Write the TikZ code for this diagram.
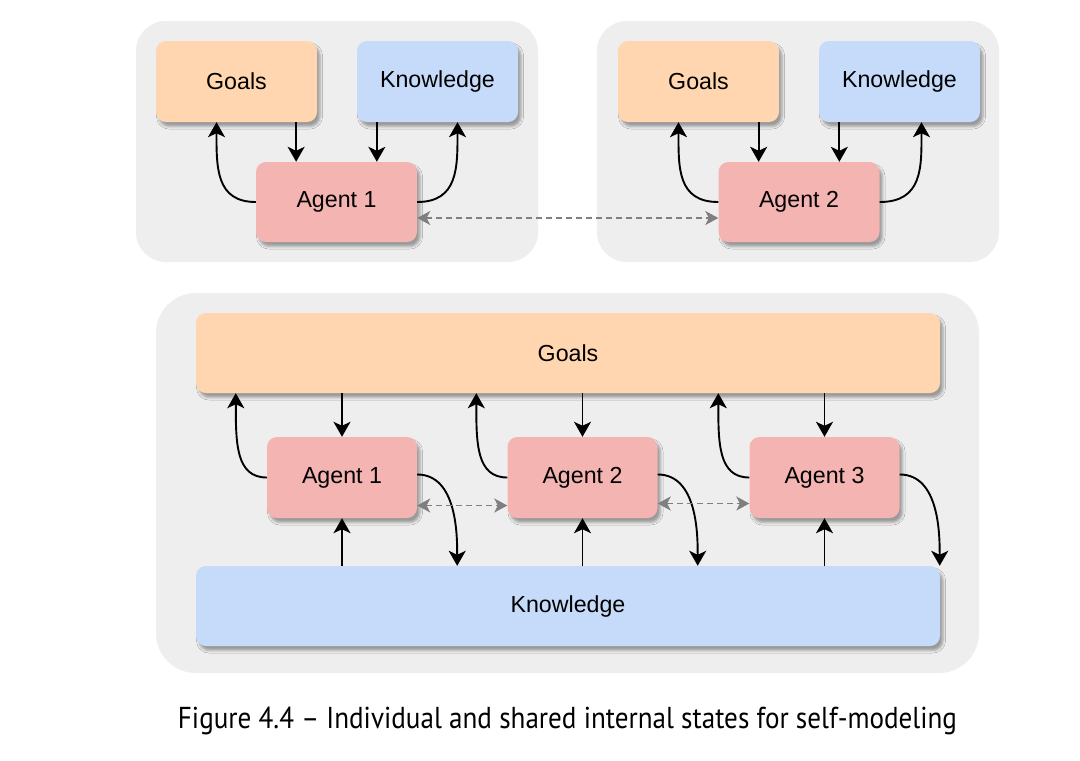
\documentclass[tikz,border=0pt]{standalone}
\usepackage{fontspec}
\setmainfont{Liberation Sans}
\newfontfamily\capfont{PT Sans}
\usetikzlibrary{calc,arrows.meta,shadows.blur}
\definecolor{bggray}{HTML}{EEEEEE}
\definecolor{goalc}{HTML}{FFD6B0}
\definecolor{knowc}{HTML}{C6DBF9}
\definecolor{agentc}{HTML}{F4B4B2}
\definecolor{dashc}{HTML}{7F7F7F}
\begin{document}
\begin{tikzpicture}[x=1pt,y=-1pt,
  panel/.style={fill=bggray, draw=none},
  box/.style={rectangle, rounded corners=10pt, draw=none, inner sep=0pt,
    font=\fontsize{23.2}{28}\selectfont,
    blur shadow={shadow xshift=3pt, shadow yshift=-4.5pt, shadow blur radius=2.5pt, shadow opacity=35}},
  goalbox/.style={box, fill=goalc},
  knowbox/.style={box, fill=knowc},
  agentbox/.style={box, fill=agentc},
  small/.style={minimum width=161pt, minimum height=81pt},
  agsmall/.style={minimum width=161pt, minimum height=80pt},
  wide/.style={minimum width=744pt, minimum height=80pt},
  agbig/.style={minimum width=150pt, minimum height=81pt},
  arr/.style={-{Stealth[length=15pt,width=17pt,inset=4pt]}, line width=1.9pt, black},
  dasharr/.style={{Stealth[length=13pt,width=14pt,inset=3.5pt]}-{Stealth[length=13pt,width=14pt,inset=3.5pt]},
    line width=1.6pt, dashc, dash pattern=on 6pt off 4pt}
]
\useasboundingbox (0,0) rectangle (1080,761);
\fill[white] (0,0) rectangle (1080,761);

% panels
\fill[panel, rounded corners=30pt] (136,21) rectangle (538,262);
\fill[panel, rounded corners=30pt] (597,21) rectangle (999,262);
\fill[panel, rounded corners=40pt] (156,293) rectangle (979,673);

% top left
\node[goalbox, small] (g1) at (236.5,81.5) {Goals};
\node[knowbox, small] (k1) at (437.5,81.5) {Knowledge};
\node[agentbox, agsmall] (a1) at (336.5,202) {Agent 1};
% top right
\node[goalbox, small] (g2) at (698.5,81.5) {Goals};
\node[knowbox, small] (k2) at (899.5,81.5) {Knowledge};
\node[agentbox, agsmall] (a2) at (799,202) {Agent 2};

% bottom
\node[goalbox, wide] (G) at (568,353) {Goals};
\node[knowbox, wide] (K) at (568,606) {Knowledge};
\node[agentbox, agbig] (A1) at (342,477.5) {Agent 1};
\node[agentbox, agbig] (A2) at (582.5,477.5) {Agent 2};
\node[agentbox, agbig] (A3) at (824.5,477.5) {Agent 3};

% top-left arrows
\coordinate (a1l) at ($(a1.north west)!0.25!(a1.north east)$);
\coordinate (a1r) at ($(a1.north west)!0.75!(a1.north east)$);
\draw[arr] (g1.south -| a1l) -- (a1l);
\draw[arr] (k1.south -| a1r) -- (a1r);
\draw[arr] (a1.west) .. controls +(-40,0) and +(0,45) .. ([xshift=-20pt]g1.south);
\draw[arr] (a1.east) .. controls +(41,0) and +(0,45) .. ([xshift=20pt]k1.south);
% top-right arrows
\coordinate (a2l) at ($(a2.north west)!0.25!(a2.north east)$);
\coordinate (a2r) at ($(a2.north west)!0.75!(a2.north east)$);
\draw[arr] (g2.south -| a2l) -- (a2l);
\draw[arr] (k2.south -| a2r) -- (a2r);
\draw[arr] (a2.west) .. controls +(-41,0) and +(0,45) .. ([xshift=-20pt]g2.south);
\draw[arr] (a2.east) .. controls +(43,0) and +(0,45) .. ([xshift=22pt]k2.south);
% dashed top
\draw[dasharr] ([yshift=-16pt]a1.east) -- ([yshift=-16pt]a2.west);

% bottom arrows
\foreach \n in {A1,A2,A3}{
  \draw[arr] (G.south -| \n.north) -- (\n.north);
  \draw[arr] (K.north -| \n.south) -- (\n.south);
  \draw[arr] (\n.west) .. controls +(-31,0) and +(0,50) .. ([xshift=-31pt]\n.west |- G.south);
  \draw[arr] ([yshift=3pt]\n.east) .. controls +(40,0) and +(0,-30) .. ([xshift=40pt]\n.east |- K.north);
}
\draw[dasharr] ([yshift=-28pt]A1.east) -- ([yshift=-28pt]A2.west);
\draw[dasharr] ([yshift=-26pt]A2.east) -- ([yshift=-26pt]A3.west);

% caption
\node[anchor=base, inner sep=0pt] (cap) at (567.5,728)
  {\resizebox{779pt}{21.5pt}{\capfont Figure 4.4 – Individual and shared internal states for self-modeling}};
\end{tikzpicture}
\end{document}
